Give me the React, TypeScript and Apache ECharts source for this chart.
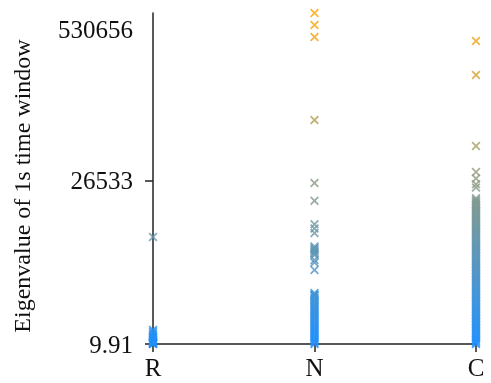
import React, { useEffect, useRef } from "react";
import * as echarts from "echarts";

const categories = ["R", "N", "C"];
const tickValues = [9.91, 26533, 530656];
const tickLabels = ["9.91", "26533", "530656"];
const yName = "Eigenvalue of 1s time window";

const valuesR = [9.91, 10.1, 10.4, 10.9, 11.5, 12.2, 13.0, 14.1, 15.3, 16.9, 18.6, 20.8, 23.5, 27.0, 31.4, 36.0, 4790];
const valuesN = [
  9.91, 11.5, 13.4, 15.5, 17.9, 20.6, 23.6, 27, 30.7, 35, 39.4, 44.5, 50.1, 56.3, 63.1, 70.6, 78.7, 87.7,
  97.5, 108, 120, 132, 146, 161, 177, 194, 213, 233, 255, 278, 303, 330, 359, 380, 390, 423,
  1300, 1800, 1995, 2440, 2600, 2750, 2900, 3050, 3200, 3400, 5500, 6400, 7400, 15200, 24800,
  107000, 475000, 572600, 686000,
];
const valuesC = [
  9.91, 11.5, 13.4, 15.5, 17.9, 20.6, 23.6, 27, 30.7, 35, 39.4, 44.5, 50.1, 56.3, 63.1, 70.6, 78.7, 87.7,
  97.5, 108, 120, 132, 146, 161, 177, 194, 213, 233, 255, 278, 303, 330, 359, 390, 423, 459,
  497, 537, 580, 626, 675, 727, 782, 840, 902, 968, 1038, 1111, 1190, 1273, 1361, 1453, 1551, 1652,
  1760, 1874, 1995, 2121, 2254, 2393, 2540, 2694, 2856, 3025, 3204, 3387, 3580, 3786, 4004, 4227,
  4463, 4706, 4962, 5227, 5505, 5795, 6100, 6415, 6747, 7090, 7450, 7821, 8210, 8610, 9030, 9465,
  9920, 10394, 10890, 11393, 11920, 12467, 13040, 13627, 14240, 14866, 15520,
  16300, 22000, 24000, 28000, 33000, 61200, 252000, 446000,
];

const EXP = 0.175;
const tf = (v: number) => Math.pow(v, EXP);

const X_PATH =
  "path://M0,1.4L1.4,0L5,3.6L8.6,0L10,1.4L6.4,5L10,8.6L8.6,10L5,6.4L1.4,10L0,8.6L3.6,5Z";

export default function App() {
  const ref = useRef<HTMLDivElement>(null);
  useEffect(() => {
    if (!ref.current) return;
    const chart = echarts.init(ref.current, undefined, { renderer: "svg" });
    const groups = [valuesR, valuesN, valuesC];
    const data: number[][] = [];
    groups.forEach((arr, i) => arr.forEach((v) => data.push([i, tf(v)])));
    const tickT = tickValues.map(tf);
    const fmt = (val: number) => {
      let best = 0;
      tickT.forEach((t, i) => {
        if (Math.abs(t - val) < Math.abs(tickT[best] - val)) best = i;
      });
      return tickLabels[best];
    };
    const font = "Liberation Serif";
    chart.setOption({
      animation: false,
      grid: { left: 153, right: 15, top: 13, bottom: 39 },
      xAxis: {
        type: "category",
        data: categories,
        boundaryGap: false,
        axisLine: { lineStyle: { color: "#222", width: 1.5 } },
        axisTick: { length: 8, lineStyle: { color: "#222", width: 1.5 } },
        axisLabel: { margin: 11, fontSize: 25, color: "#111", fontFamily: font },
        splitLine: { show: false },
      },
      yAxis: {
        type: "value",
        min: "dataMin",
        max: "dataMax",
        axisLine: { show: true, lineStyle: { color: "#222", width: 1.5 } },
        axisTick: { show: true, length: 8, customValues: [tickT[0], tickT[1]], lineStyle: { color: "#222", width: 1.5 } },
        axisLabel: {
          customValues: tickT,
          formatter: (v: number) => fmt(v),
          margin: 20,
          fontSize: 25,
          color: "#111",
          fontFamily: font,
        },
        splitLine: { show: false },
      },
      visualMap: {
        show: false,
        type: "continuous",
        dimension: 1,
        min: tf(9.91),
        max: tf(686000),
        inRange: { color: ["#1E90FF", "#FFA500"] },
      },
      graphic: [
        {
          type: "text",
          x: 22,
          y: 186,
          rotation: Math.PI / 2,
          style: {
            text: yName,
            font: "24px 'Liberation Serif'",
            fill: "#111",
            textAlign: "center",
            textVerticalAlign: "middle",
          },
        },
      ],
      series: [
        {
          type: "scatter",
          symbol: X_PATH,
          symbolSize: 9,
          itemStyle: { opacity: 0.8 },
          data,
        },
      ],
    });
    return () => chart.dispose();
  }, []);
  return <div ref={ref} style={{ position: "fixed", left: 0, top: 0, width: 491, height: 383 }} />;
}
